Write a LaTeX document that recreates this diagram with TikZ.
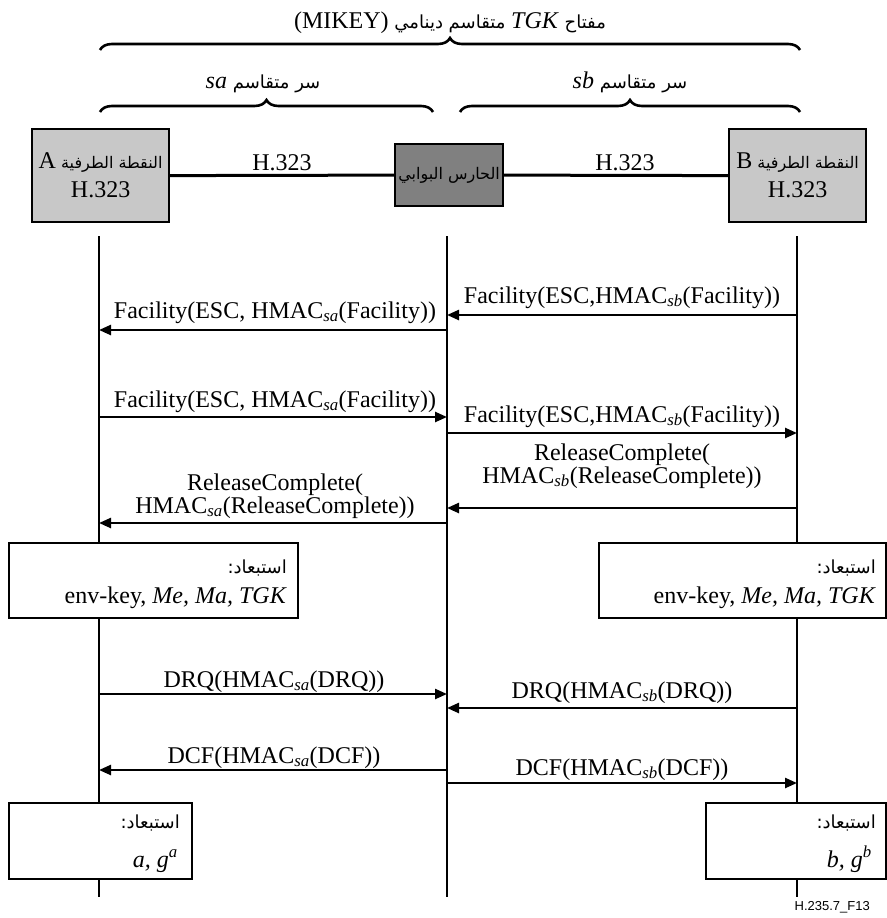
\documentclass[tikz,border=0pt]{standalone}
\usepackage{fontspec}
\setmainfont{Liberation Serif}
\setsansfont{Liberation Sans}
\newfontfamily\arabicfont[Script=Arabic]{DejaVu Sans}
\TeXXeTstate=1
\usetikzlibrary{decorations.pathreplacing,arrows.meta}
\definecolor{epgray}{RGB}{200,200,200}
\definecolor{gkgray}{RGB}{128,128,128}
\newcommand{\artx}[1]{{\arabicfont\beginR #1\endR}}
\newcommand{\ltx}[1]{\beginL{\rmfamily\fontsize{24}{26}\selectfont #1}\endL}
\newcommand{\sbi}[1]{\textsubscript{\itshape #1}}
\begin{document}
\begin{tikzpicture}[x=1pt,y=-1pt,
  lbl/.style={inner sep=0pt, font=\fontsize{24}{26}\selectfont},
  arl/.style={inner sep=0pt, font=\arabicfont\fontsize{18}{22}\selectfont},
  arb/.style={inner sep=0pt, font=\arabicfont\fontsize{16}{18}\selectfont},
  life/.style={line width=2.8pt},
  conn/.style={line width=3pt},
  msg/.style={line width=2.4pt, -{Triangle[length=12pt,width=10pt]}},
  brc/.style={line width=2.6pt, decorate, decoration={brace, amplitude=12pt}},
  epbox/.style={draw, line width=2.2pt, fill=epgray, inner sep=0pt, anchor=north west},
  gkbox/.style={draw, line width=2.2pt, fill=gkgray, inner sep=0pt, anchor=north west},
  nbox/.style={draw, line width=2.2pt, fill=white, inner sep=0pt, anchor=north west},
  foot/.style={inner sep=0pt, font=\sffamily\fontsize{13}{15}\selectfont}
]
\useasboundingbox (0,0) rectangle (886,918);
\fill[white] (0,0) rectangle (886,918);

% braces and titles
\coordinate (t0) at (100,50); \coordinate (t1) at (800,50);
\draw[brc] (t0) -- (t1);
\node[arl, anchor=base] (title) at (450,28) {\artx{مفتاح \ltx{\textit{TGK}} متقاسم دينامي \ltx{(MIKEY)}}};
\coordinate (l0) at (100,112); \coordinate (l1) at (433,112);
\coordinate (r0) at (460,112); \coordinate (r1) at (800,112);
\draw[brc] (l0) -- (l1);
\draw[brc] (r0) -- (r1);
\node[arl, anchor=base] (sal) at (263,88) {\artx{سر متقاسم \ltx{\textit{sa}}}};
\node[arl, anchor=base] (sbl) at (630,88) {\artx{سر متقاسم \ltx{\textit{sb}}}};

% lifelines
\coordinate (LA0) at (99,236); \coordinate (LA1) at (99,897);
\coordinate (LG0) at (447,236); \coordinate (LG1) at (447,897);
\coordinate (LB0) at (797,236); \coordinate (LB1) at (797,897);
\draw[life] (LA0) -- (LA1);
\draw[life] (LG0) -- (LG1);
\draw[life] (LB0) -- (LB1);

% top entities
\node[epbox, minimum width=137pt, minimum height=93pt] (A) at (31,128) {};
\node[gkbox, minimum width=108pt, minimum height=62pt] (GK) at (394,143) {};
\node[epbox, minimum width=137pt, minimum height=93pt] (B) at (728,128) {};
\draw[conn] (A.east) -- (GK.west);
\draw[conn] (GK.east) -- (B.west);
\node[lbl, anchor=base] (h1) at (282,170) {H.323};
\node[lbl, anchor=base] (h2) at (625,170) {H.323};
\node[arb] (A1) at (A.center |- 0,163) {\artx{النقطة الطرفية \ltx{A}}};
\node[lbl, anchor=base] (A2) at (A.center |- 0,197) {H.323};
\node[arb] (B1) at (B.center |- 0,163) {\artx{النقطة الطرفية \ltx{B}}};
\node[lbl, anchor=base] (B2) at (B.center |- 0,197) {H.323};
\node[arb] (GK1) at (GK.center) {\artx{الحارس البوابي}};

% messages
\coordinate (m1s) at (797,315); \coordinate (m1e) at (447,315);
\draw[msg] (m1s) -- (m1e);
\node[lbl, anchor=base] (m1l) at (622,303) {Facility(ESC,HMAC\sbi{sb}(Facility))};
\coordinate (m2s) at (447,330); \coordinate (m2e) at (99,330);
\draw[msg] (m2s) -- (m2e);
\node[lbl, anchor=base] (m2l) at (275,318) {Facility(ESC, HMAC\sbi{sa}(Facility))};
\coordinate (m3s) at (99,417); \coordinate (m3e) at (447,417);
\draw[msg] (m3s) -- (m3e);
\node[lbl, anchor=base] (m3l) at (275,407) {Facility(ESC, HMAC\sbi{sa}(Facility))};
\coordinate (m4s) at (447,433); \coordinate (m4e) at (797,433);
\draw[msg] (m4s) -- (m4e);
\node[lbl, anchor=base] (m4l) at (622,422) {Facility(ESC,HMAC\sbi{sb}(Facility))};
\coordinate (m5s) at (797,508); \coordinate (m5e) at (447,508);
\draw[msg] (m5s) -- (m5e);
\node[lbl, anchor=base] (m5a) at (622,460) {ReleaseComplete(};
\node[lbl, anchor=base] (m5b) at (622,483) {HMAC\sbi{sb}(ReleaseComplete))};
\coordinate (m6s) at (447,523); \coordinate (m6e) at (99,523);
\draw[msg] (m6s) -- (m6e);
\node[lbl, anchor=base] (m6a) at (275,490) {ReleaseComplete(};
\node[lbl, anchor=base] (m6b) at (275,513) {HMAC\sbi{sa}(ReleaseComplete))};

% key boxes
\node[nbox, minimum width=289pt, minimum height=75pt] (EA) at (8,542) {};
\node[arl, anchor=east] (EA1) at (287,568) {\artx{استبعاد:}};
\node[lbl, anchor=base east] (EA2) at (287,603) {env-key, \textit{Me, Ma, TGK}};
\node[nbox, minimum width=287pt, minimum height=75pt] (EB) at (598,542) {};
\node[arl, anchor=east] (EB1) at (876,568) {\artx{استبعاد:}};
\node[lbl, anchor=base east] (EB2) at (876,603) {env-key, \textit{Me, Ma, TGK}};

% DRQ / DCF
\coordinate (m7s) at (99,694); \coordinate (m7e) at (447,694);
\draw[msg] (m7s) -- (m7e);
\node[lbl, anchor=base] (m7l) at (274,687) {DRQ(HMAC\sbi{sa}(DRQ))};
\coordinate (m8s) at (797,708); \coordinate (m8e) at (447,708);
\draw[msg] (m8s) -- (m8e);
\node[lbl, anchor=base] (m8l) at (622,698) {DRQ(HMAC\sbi{sb}(DRQ))};
\coordinate (m9s) at (447,770); \coordinate (m9e) at (99,770);
\draw[msg] (m9s) -- (m9e);
\node[lbl, anchor=base] (m9l) at (274,763) {DCF(HMAC\sbi{sa}(DCF))};
\coordinate (m10s) at (447,783); \coordinate (m10e) at (797,783);
\draw[msg] (m10s) -- (m10e);
\node[lbl, anchor=base] (m10l) at (622,775) {DCF(HMAC\sbi{sb}(DCF))};

% bottom boxes
\node[nbox, minimum width=183pt, minimum height=76pt] (FA) at (8,802) {};
\node[arl, anchor=east] (FA1) at (180,823) {\artx{استبعاد:}};
\node[lbl, anchor=base east] (FA2) at (178,867) {\textit{a, g}\textsuperscript{\itshape a}};
\node[nbox, minimum width=180pt, minimum height=76pt] (FB) at (705,802) {};
\node[arl, anchor=east] (FB1) at (876,823) {\artx{استبعاد:}};
\node[lbl, anchor=base east] (FB2) at (872,867) {\textit{b, g}\textsuperscript{\itshape b}};

\node[foot, anchor=base east] (fig) at (870,910) {H.235.7\_F13};
\end{tikzpicture}
\end{document}
